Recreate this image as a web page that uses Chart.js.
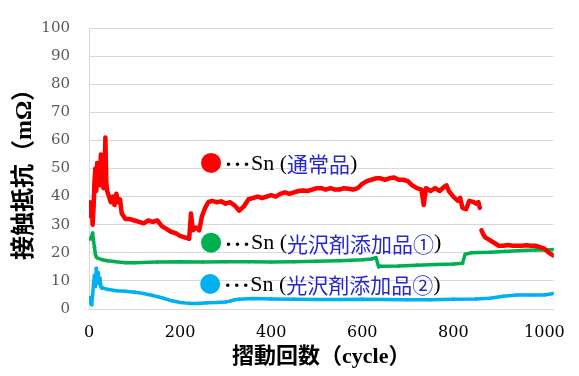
<!DOCTYPE html>
<html lang="ja">
<head>
<meta charset="utf-8">
<script src="https://cdn.jsdelivr.net/npm/chart.js@4.4.1/dist/chart.umd.min.js"></script>
<style>
  html, body { margin: 0; padding: 0; background: #ffffff; }
  #wrap { width: 579px; height: 376px; }
</style>
</head>
<body>
<div id="wrap"><canvas id="chart" width="579" height="376"></canvas></div>
<script>
// Sn (通常品)
const redX = [0, 2, 4, 6, 8, 10, 12, 14, 16, 18, 20, 22, 24, 26, 28, 30, 32, 34, 36, 38, 40, 44, 48, 52, 56, 60, 64, 68, 72, 76, 80, 90, 100, 110, 120, 130, 140, 150, 160, 170, 180, 190, 200, 210, 220, 224, 228, 235, 242, 248, 255, 262, 270, 280, 290, 300, 310, 320, 330, 340, 350, 360, 370, 380, 390, 400, 410, 420, 430, 440, 450, 460, 470, 480, 490, 500, 510, 520, 530, 540, 550, 560, 570, 580, 590, 600, 610, 620, 630, 640, 650, 660, 670, 680, 690, 700, 710, 720, 730, 735, 740, 750, 760, 770, 780, 785, 790, 800, 810, 815, 820, 828, 835, 845, 850, 855, 858, 860, 862, 866, 870, 880, 890, 900, 910, 920, 930, 940, 950, 960, 970, 980, 990, 1000, 1010, 1020];
const redY = [36, 38, 33, 37, 30, 36, 45, 50, 42, 52, 46, 49, 44, 55, 47, 51, 43, 48, 61, 45, 42, 40, 38, 40, 37, 41, 38, 39, 34, 33, 32, 32, 31.5, 31, 30.5, 31.5, 31, 31.5, 29.5, 28.5, 27.5, 27, 26, 25.5, 25, 34, 28, 29, 28, 33, 36, 38, 38.5, 38, 38.3, 37.5, 38, 36.8, 35, 36.5, 39, 39.5, 40, 39.5, 40, 40.5, 40, 41, 41.5, 41, 41.5, 42, 42.2, 42, 42.5, 43, 43, 42.5, 43, 42.5, 42.5, 43, 42.8, 42.5, 43, 44.5, 45.5, 46, 46.5, 46.5, 46, 46.5, 46.8, 46, 46, 45.5, 44, 43, 42.5, 37, 43, 42, 43, 42, 43.5, 44, 42, 40, 38.5, 39.5, 36, 35.5, 38.5, 38, 37.5, 38, 36, null, 28, 26.5, 25.5, 24.5, 23.5, 22.5, 22.5, 22.8, 22.5, 22.5, 22.5, 22.7, 22.5, 22.5, 22, 21.5, 20, 19];

// Sn (光沢剤添加品①)
const greenX = [0, 4, 8, 10, 12, 14, 16, 20, 30, 40, 60, 80, 100, 150, 200, 250, 300, 350, 400, 450, 500, 550, 600, 620, 630, 636, 640, 680, 720, 760, 800, 820, 826, 840, 880, 913, 950, 980, 1000, 1020];
const greenY = [25, 25, 27, 24, 22, 19.5, 18.5, 18, 17.5, 17.2, 16.8, 16.5, 16.5, 16.7, 16.8, 16.7, 16.8, 16.8, 16.7, 16.8, 17, 17.2, 17.5, 17.8, 18.3, 15, 15.2, 15.3, 15.6, 15.8, 16, 16.3, 19.5, 20, 20.2, 20.5, 20.8, 21, 21, 21.2];

// Sn (光沢剤添加品②)
const blueX = [0, 2, 4, 6, 8, 10, 12, 14, 16, 18, 20, 22, 24, 26, 28, 30, 40, 60, 80, 100, 120, 140, 160, 180, 200, 220, 240, 260, 280, 300, 310, 320, 330, 360, 400, 450, 500, 550, 600, 650, 700, 750, 800, 850, 880, 910, 940, 970, 1000, 1020];
const blueY = [3.5, 4, 2, 1.5, 5, 9, 12, 8, 14.5, 10, 13, 9, 11, 8, 7.5, 7.5, 7, 6.5, 6.3, 6, 5.5, 4.8, 4, 3, 2.3, 2, 2, 2.2, 2.3, 2.5, 2.8, 3.3, 3.5, 3.7, 3.6, 3.5, 3.4, 3.4, 3.5, 3.4, 3.3, 3.3, 3.5, 3.6, 3.8, 4.5, 5, 5, 5, 5.5];

const seriesColors = ["#FF0000", "#00B050", "#00B0F0"];
const seriesNames = ["通常品", "光沢剤添加品①", "光沢剤添加品②"];
// ラベルの位置 (データ座標)
const labelX = [268, 268, 266];
const labelY = [52, 23.6, 8.9];

const xTicks = [0, 200, 400, 600, 800, 1000];
const yTicks = [0, 10, 20, 30, 40, 50, 60, 70, 80, 90, 100];

function toPoints(xs, ys) {
    return xs.map((x, i) => ({ x: x, y: ys[i] }));
}

function makeSet(xs, ys, color, width) {
    return {
        data: toPoints(xs, ys),
        showLine: true,
        spanGaps: false,
        borderColor: color,
        backgroundColor: color,
        borderWidth: width,
        borderJoinStyle: "round",
        borderCapStyle: "round",
        pointRadius: 1.8,
        pointBorderWidth: 0,
        tension: 0,
    };
}

// 丸印と文字のラベル
const seriesLabels = {
    id: "seriesLabels",
    afterDatasetsDraw(chart) {
        const ctx = chart.ctx;
        const sx = chart.scales.x;
        const sy = chart.scales.y;
        ctx.save();
        ctx.textBaseline = "middle";
        ctx.textAlign = "left";
        seriesNames.forEach((name, i) => {
            const cx = sx.getPixelForValue(labelX[i]);
            const cy = sy.getPixelForValue(labelY[i]);
            ctx.fillStyle = seriesColors[i];
            ctx.beginPath();
            ctx.arc(cx, cy, 10, 0, Math.PI * 2);
            ctx.fill();

            let x = cx + 13;
            const parts = [
                { t: "･･･", c: "#000000", f: "bold 18px 'Noto Sans CJK JP'" },
                { t: "Sn", c: "#000000", f: "22px 'Liberation Serif'" },
                { t: " (", c: "#000000", f: "22px 'Liberation Serif'" },
                { t: name, c: "#2828C8", f: "21px 'Noto Sans CJK JP'" },
                { t: ")", c: "#000000", f: "22px 'Liberation Serif'" },
            ];
            parts.forEach(p => {
                ctx.font = p.f;
                ctx.fillStyle = p.c;
                ctx.fillText(p.t, x, cy + 1);
                x += ctx.measureText(p.t).width;
            });
        });
        ctx.restore();
    },
};

new Chart(document.getElementById("chart"), {
    type: "scatter",
    data: {
        datasets: [
            makeSet(redX, redY, seriesColors[0], 4.5),
            makeSet(greenX, greenY, seriesColors[1], 3.5),
            makeSet(blueX, blueY, seriesColors[2], 3.5),
        ],
    },
    options: {
        responsive: false,
        animation: false,
        layout: { padding: { top: 17, right: 11, left: 0, bottom: 0 } },
        plugins: {
            legend: { display: false },
            tooltip: { enabled: false },
        },
        scales: {
            x: {
                type: "linear",
                min: 0,
                max: 1020,
                afterBuildTicks: scale => { scale.ticks = xTicks.map(v => ({ value: v })); },
                afterFit: scale => { scale.height = 67; },
                grid: { display: false, drawTicks: false },
                border: { display: true, color: "#D9D9D9", width: 1 },
                ticks: {
                    padding: 14,
                    color: "#000000",
                    font: { family: "'DejaVu Serif'", size: 16 },
                    maxRotation: 0,
                    callback: v => String(v),
                },
                title: {
                    display: true,
                    text: "摺動回数（cycle）",
                    color: "#000000",
                    font: { family: "'Liberation Serif', 'Noto Sans CJK JP'", size: 22, weight: "bold" },
                    padding: { top: 0, bottom: 5 },
                },
            },
            y: {
                min: 0,
                max: 100,
                afterBuildTicks: scale => { scale.ticks = yTicks.map(v => ({ value: v })); },
                afterFit: scale => { scale.width = 89; },
                grid: { color: "#D9D9D9", lineWidth: 1, drawTicks: false },
                border: { display: true, color: "#D9D9D9", width: 1 },
                ticks: {
                    padding: 19,
                    color: "#595959",
                    font: { family: "'DejaVu Serif'", size: 15 },
                    callback: v => String(v),
                },
                title: {
                    display: true,
                    text: "接触抵抗（mΩ）",
                    color: "#000000",
                    font: { family: "'Liberation Serif', 'Noto Sans CJK JP'", size: 24, weight: "bold" },
                    padding: { top: 10, bottom: 0 },
                },
            },
        },
    },
    plugins: [seriesLabels],
});
</script>
</body>
</html>
